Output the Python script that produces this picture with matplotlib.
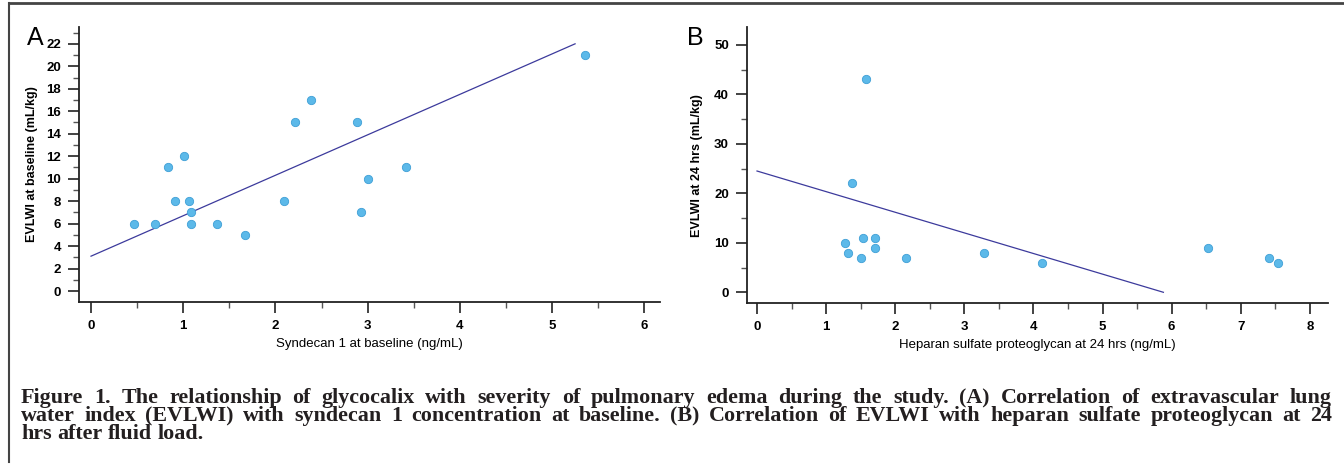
import numpy as np
import matplotlib.pyplot as plt
from matplotlib.lines import Line2D
from matplotlib.ticker import MultipleLocator

# Panel A: syndecan 1 at baseline vs EVLWI at baseline
syndecan = [0.47, 0.69, 0.83, 0.91, 1.01, 1.06, 1.08, 1.08, 1.37, 1.67,
            2.09, 2.21, 2.39, 2.89, 2.93, 3.00, 3.42, 5.36]
evlwi_base = [6, 6, 11, 8, 12, 8, 7, 6, 6, 5, 8, 15, 17, 15, 7, 10, 11, 21]
fit_a_x = [0.0, 5.25]
fit_a_y = [3.1, 22.0]

# Panel B: heparan sulfate proteoglycan at 24 hrs vs EVLWI at 24 hrs
hspg = [1.27, 1.32, 1.38, 1.50, 1.54, 1.57, 1.70, 1.71, 2.16, 3.29,
        4.13, 6.52, 7.41, 7.54]
evlwi_24 = [10, 8, 22, 7, 11, 43, 11, 9, 7, 8, 6, 9, 7, 6]
fit_b_x = [0.0, 5.88]
fit_b_y = [24.5, 0.0]

caption = [
    "Figure 1.  The relationship of glycocalix with severity of pulmonary edema during the study. (A) Correlation of extravascular lung",
    "water index (EVLWI) with syndecan 1 concentration at baseline. (B) Correlation of EVLWI with heparan sulfate proteoglycan at 24",
    "hrs after fluid load.",
]

plt.rcParams['font.family'] = ['Liberation Sans Narrow', 'Liberation Sans', 'DejaVu Sans']

dot_color = '#5cb9e9'
dot_edge = '#3f9fd6'
line_color = '#3c3a9c'
axis_color = '#222222'

fig = plt.figure(figsize=(13.44, 4.65), dpi=100)


def style_axes(ax, xmax_tick, ymaj, ymin):
    for s in ['top', 'right']:
        ax.spines[s].set_visible(False)
    for s in ['left', 'bottom']:
        ax.spines[s].set_linewidth(1.3)
        ax.spines[s].set_color(axis_color)
    ax.set_xticks(range(0, xmax_tick + 1))
    ax.xaxis.set_minor_locator(MultipleLocator(0.5))
    ax.yaxis.set_major_locator(MultipleLocator(ymaj))
    ax.yaxis.set_minor_locator(MultipleLocator(ymin))
    ax.tick_params(which='major', length=8, width=1.2, color=axis_color,
                   labelsize=9.5, pad=5)
    ax.tick_params(which='minor', length=4, width=1.0, color='#555555')
    for lab in ax.get_xticklabels() + ax.get_yticklabels():
        lab.set_fontweight('bold')


def justified(y, line, x0, x1, stretch=True, **kw):
    # place words one by one so the line fills x0..x1 like the printed caption
    words = line.split()
    texts = [fig.text(x0, y, w, **kw) for w in words]
    r = fig.canvas.get_renderer()
    widths = [t.get_window_extent(r).width / fig.bbox.width for t in texts]
    space = fig.text(0, 0, 'a b', **kw)
    nospace = fig.text(0, 0, 'ab', **kw)
    gap = (space.get_window_extent(r).width - nospace.get_window_extent(r).width) / fig.bbox.width
    space.remove()
    nospace.remove()
    if stretch and len(words) > 1:
        gap = (x1 - x0 - sum(widths)) / (len(words) - 1)
    x = x0
    for t, w in zip(texts, widths):
        t.set_x(x)
        x += w + gap


# Panel A
ax1 = fig.add_axes([0.0588, 0.3505, 0.4322, 0.5915])
ax1.plot(fit_a_x, fit_a_y, color=line_color, lw=0.9, zorder=2)
ax1.scatter(syndecan, evlwi_base, s=36, color=dot_color, edgecolor=dot_edge,
            linewidth=0.6, zorder=3)
ax1.set_xlim(-0.13, 6.17)
ax1.set_ylim(-0.98, 23.5)
ax1.set_yticks(range(0, 23, 2))
style_axes(ax1, 6, 2, 1)
ax1.set_ylabel('EVLWI at baseline (mL/kg)', fontsize=9, fontweight='bold',
               family=['Liberation Sans', 'DejaVu Sans'], labelpad=6)
ax1.set_xlabel('Syndecan 1 at baseline (ng/mL)', fontsize=9.5, labelpad=4)
fig.text(0.020, 0.918, 'A', fontsize=18, family=['Liberation Sans', 'DejaVu Sans'],
         va='center', ha='left')

# Panel B
ax2 = fig.add_axes([0.5558, 0.348, 0.4322, 0.594])
ax2.plot(fit_b_x, fit_b_y, color=line_color, lw=0.9, zorder=2)
ax2.scatter(hspg, evlwi_24, s=36, color=dot_color, edgecolor=dot_edge,
            linewidth=0.6, zorder=3)
ax2.set_xlim(-0.145, 8.26)
ax2.set_ylim(-2.2, 53.6)
style_axes(ax2, 8, 10, 5)
ax2.set_ylabel('EVLWI at 24 hrs (mL/kg)', fontsize=9, fontweight='bold',
               family=['Liberation Sans', 'DejaVu Sans'], labelpad=8)
ax2.set_xlabel('Heparan sulfate proteoglycan at 24 hrs (ng/mL)', fontsize=9.5,
               labelpad=4)
fig.text(0.511, 0.918, 'B', fontsize=18, family=['Liberation Sans', 'DejaVu Sans'],
         va='center', ha='left')

# figure frame (top and left edges)
fig.add_artist(Line2D([0.0067, 1.0], [0.993, 0.993], transform=fig.transFigure,
                      color='#444444', lw=2))
fig.add_artist(Line2D([0.0067, 0.0067], [0.006, 0.993], transform=fig.transFigure,
                      color='#444444', lw=1.5))

# caption, justified like the journal text block
cap_style = dict(fontsize=15.8, fontweight='bold',
                 family=['Liberation Serif', 'DejaVu Serif'], color='#231f20',
                 va='baseline', ha='left')
cap_base = [0.1333, 0.0946, 0.0559]
for i, line in enumerate(caption):
    justified(cap_base[i], line, 0.0156, 0.991,
              stretch=(i < len(caption) - 1), **cap_style)

fig.savefig('out.png', dpi=100)
